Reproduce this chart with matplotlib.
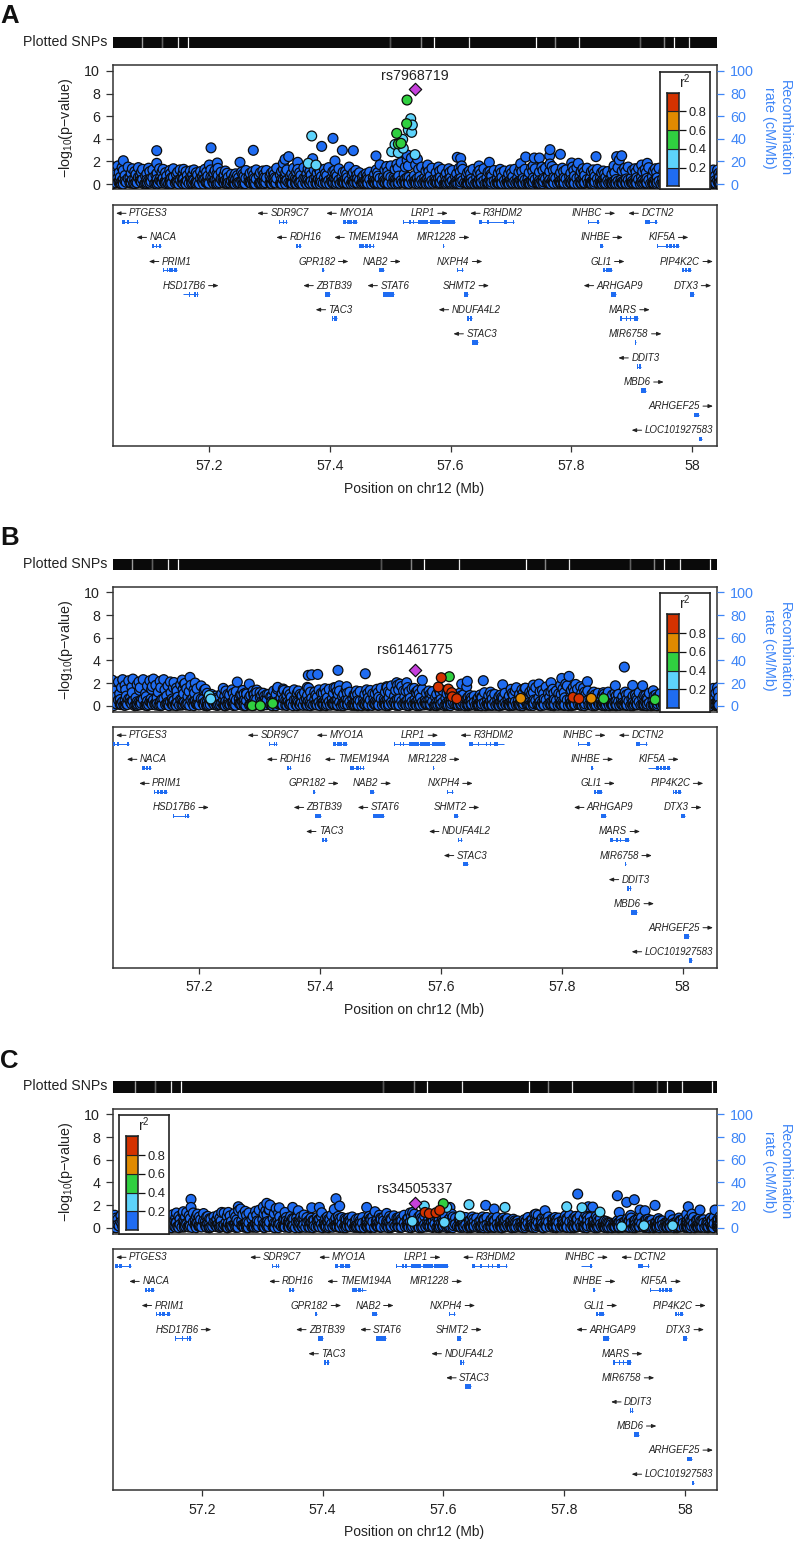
import numpy as np
import matplotlib
matplotlib.use('Agg')
from matplotlib import pyplot as plt

plt.rcParams['font.family'] = ['Liberation Sans', 'DejaVu Sans']
plt.rcParams['mathtext.default'] = 'regular'
plt.rcParams['axes.unicode_minus'] = True

# SNP cloud: positions (Mb) of the upper edge of the band
snp_pos = [57.040, 57.049, 57.056, 57.066, 57.073, 57.083, 57.090, 57.100, 57.107, 57.118,
           57.124, 57.135, 57.141, 57.152, 57.158, 57.169, 57.175, 57.186, 57.193, 57.203,
           57.210, 57.220, 57.227, 57.237, 57.244, 57.254, 57.261, 57.272, 57.278, 57.289,
           57.295, 57.306, 57.312, 57.323, 57.329, 57.340, 57.347, 57.357, 57.364, 57.374,
           57.381, 57.391, 57.398, 57.408, 57.415, 57.426, 57.432, 57.443, 57.449, 57.460,
           57.466, 57.477, 57.483, 57.494, 57.501, 57.511, 57.518, 57.528, 57.535, 57.545,
           57.552, 57.562, 57.569, 57.580, 57.586, 57.597, 57.603, 57.614, 57.620, 57.631,
           57.637, 57.648, 57.655, 57.665, 57.672, 57.682, 57.689, 57.699, 57.706, 57.716,
           57.723, 57.734, 57.740, 57.751, 57.757, 57.768, 57.774, 57.785, 57.791, 57.802,
           57.809, 57.819, 57.826, 57.836, 57.843, 57.853, 57.860, 57.870, 57.877, 57.888,
           57.894, 57.905, 57.911, 57.922, 57.928, 57.939, 57.945, 57.956, 57.963, 57.973,
           57.980, 57.990, 57.997, 58.007, 58.014, 58.024, 58.031, 58.042, 58.048, 58.058]

top_a = [1.5, 1.6, 1.45, 1.5, 1.35, 1.45, 1.3, 1.4, 1.25, 1.35,
         1.3, 1.2, 1.35, 1.25, 1.3, 1.15, 1.25, 1.1, 1.3, 1.25,
         1.2, 1.05, 1.15, .85, .9, 1.05, 1.2, 1.1, 1.25, 1.15,
         1.2, 1.1, 1.4, 1.3, 1.25, 1.4, 1.3, 1.45, 1.35, 1.25,
         1.4, 1.3, 1.45, 1.2, 1.35, 1.1, 1.5, 1.2, 1.0, .9,
         1.05, 1.25, 1.7, 1.55, 1.6, 1.75, 1.9, 2.1, 2.3, 2.2,
         1.5, 1.45, 1.4, 1.5, 1.3, 1.35, 1.2, 1.4, 1.3, 1.15,
         1.3, 1.2, 1.35, 1.1, 1.2, 1.3, 1.15, 1.25, 1.3, 1.4,
         1.3, 1.45, 1.35, 1.5, 1.4, 1.55, 1.3, 1.4, 1.25, 1.5,
         1.45, 1.35, 1.4, 1.25, 1.3, 1.15, 1.1, 1.3, 1.45, 1.4,
         1.5, 1.35, 1.4, 1.3, 1.45, 1.35, 1.4, 1.3, 1.35, 1.3,
         1.2, 1.3, 1.25, 1.2, 1.1, 1.0, .9, 1.24, 1.0, 1.0]
top_b = [2.2, 2.05, 2.25, 2.1, 2.3, 2.2, 2.35, 2.1, 2.3, 2.2,
         2.35, 2.15, 2.3, 2.1, 2.05, 1.85, 1.9, 1.8, 2.0, 1.75,
         1.45, 1.0, .85, 1.05, 1.3, 1.4, 1.25, 1.35, 1.15, 1.3,
         1.15, 1.1, 1.0, 1.3, 1.45, 1.35, 1.25, 1.4, 1.3, 1.15,
         1.55, 1.2, 1.4, 1.5, 1.45, 1.6, 1.3, 1.4, 1.2, 1.3,
         1.25, 1.4, 1.35, 1.45, 1.55, 1.6, 1.75, 1.8, 1.7, 1.6,
         1.5, 1.35, 1.45, 1.3, 1.25, 1.4, 1.35, 1.2, 1.0, 1.1,
         .95, .9, .85, .95, 1.15, 1.2, 1.0, .95, 1.1, 1.45,
         1.3, 1.4, 1.55, 1.5, 1.6, 1.35, 1.65, 1.45, 1.3, 1.5,
         1.75, 1.6, 1.45, 1.55, 1.3, 1.2, 1.1, 1.0, 1.2, 1.1,
         1.0, 1.2, 1.05, .95, 1.15, .9, 1.1, .95, 1.05, 1.2,
         1.1, 1.2, 1.3, 1.1, 1.25, 1.2, 1.3, 1.15, 1.4, 1.6]
top_c = [1.1, 1.0, 1.1, 1.05, 1.0, .95, 1.05, .9, 1.0, 1.05,
         1.1, 1.2, 1.05, 1.15, 1.3, 1.25, 1.35, 1.3, 1.2, 1.25,
         1.0, .95, 1.1, 1.3, 1.35, 1.25, 1.5, 1.45, 1.3, 1.45,
         1.55, 1.5, 1.6, 1.7, .95, .9, 1.0, .85, .95, .9,
         .85, .9, 1.0, .95, 1.1, 1.0, .9, .85, .95, .8,
         .9, 1.0, .95, 1.1, .9, 1.0, 1.05, .95, 1.1, 1.3,
         1.2, 1.1, 1.0, .95, .9, 1.1, 1.0, 1.2, .85, .95,
         .9, .95, .85, .95, .9, .85, .9, .85, .8, .75,
         .6, .7, .9, 1.15, 1.1, 1.0, .95, .9, .85, 1.05,
         1.1, 1.0, 1.05, 1.15, .9, 1.0, .8, .55, .4, .6,
         .65, .8, .85, .7, .9, .75, .65, .8, .6, .55,
         .7, .85, .75, .8, .9, .8, .7, .85, .9, 1.0]

# second row under the upper edge, one per panel (at low_pos)
upper_a = [1.15, 1.0, 1.2, .95, 1.1, 1.05, .9, 1.1, .95, 1.05,
           1.0, .9, 1.05, .95, 1.1, .85, 1.0, .9, 1.05, .95,
           .9, .8, .95, .7, .75, .85, .95, .8, 1.0, .85,
           .95, .85, 1.1, 1.0, .9, 1.05, 1.0, .9, 1.1, .95,
           1.05, .95, 1.1, .9, 1.05, .85, 1.0, .8, .75, .7,
           .85, 1.0, 1.25, 1.1, 1.3, 1.4, 1.5, 1.6, 1.7, 1.3,
           1.15, 1.1, 1.0, 1.15, .95, 1.05, .9, 1.1, 1.0, .9,
           1.0, .9, 1.05, .85, .95, 1.0, .9, .95, 1.05, 1.1,
           1.0, 1.15, 1.05, 1.2, 1.1, 1.2, 1.0, 1.1, .95, 1.2,
           1.1, 1.05, 1.1, .95, 1.0, .9, .85, 1.0, 1.15, 1.1,
           1.2, 1.05, 1.1, 1.0, 1.15, 1.05, 1.1, 1.0, 1.05, 1.0,
           .95, 1.0, .95, .9, .85, .8, .7, .95, .8, .8]
upper_b = [1.7, 1.5, 1.75, 1.6, 1.8, 1.65, 1.85, 1.6, 1.75, 1.7,
           1.8, 1.6, 1.75, 1.6, 1.55, 1.45, 1.5, 1.4, 1.5, 1.35,
           1.1, .8, .7, .85, 1.0, 1.1, .95, 1.05, .9, 1.0,
           .9, .85, .8, 1.0, 1.1, 1.05, 1.0, 1.1, 1.0, .9,
           1.2, .95, 1.1, 1.15, 1.1, 1.25, 1.0, 1.1, .95, 1.0,
           1.0, 1.1, 1.05, 1.15, 1.2, 1.25, 1.35, 1.4, 1.3, 1.25,
           1.2, 1.05, 1.1, 1.0, 1.0, 1.1, 1.05, .95, .8, .85,
           .75, .7, .7, .75, .9, .95, .8, .75, .85, 1.1,
           1.0, 1.1, 1.2, 1.15, 1.25, 1.05, 1.25, 1.1, 1.0, 1.15,
           1.35, 1.25, 1.1, 1.2, 1.0, .95, .85, .8, .95, .85,
           .8, .95, .85, .75, .9, .7, .85, .75, .8, .95,
           .85, .95, 1.0, .85, 1.0, .95, 1.0, .9, 1.1, 1.25]
upper_c = [.85, .8, .85, .8, .75, .75, .8, .7, .8, .8,
           .85, .95, .8, .9, 1.0, .95, 1.05, 1.0, .95, .95,
           .8, .75, .85, 1.0, 1.05, .95, 1.15, 1.1, 1.0, 1.1,
           1.2, 1.15, 1.25, 1.3, .75, .7, .8, .65, .75, .7,
           .65, .7, .8, .75, .85, .8, .7, .65, .75, .6,
           .7, .8, .75, .85, .7, .8, .8, .75, .85, 1.0,
           .95, .85, .8, .75, .7, .85, .8, .95, .65, .75,
           .7, .75, .65, .75, .7, .65, .7, .65, .6, .6,
           .45, .55, .7, .9, .85, .8, .75, .7, .65, .8,
           .85, .8, .8, .9, .7, .8, .6, .45, .3, .45,
           .5, .6, .65, .55, .7, .6, .5, .6, .45, .45,
           .55, .65, .6, .6, .7, .6, .55, .65, .7, .8]

# lower part of the band, about the same in all panels
mid_pos = [57.044, 57.053, 57.061, 57.069, 57.079, 57.086, 57.095, 57.104, 57.112, 57.120,
           57.130, 57.138, 57.146, 57.155, 57.164, 57.171, 57.181, 57.189, 57.198, 57.206,
           57.215, 57.223, 57.232, 57.240, 57.249, 57.258, 57.266, 57.275, 57.283, 57.292,
           57.301, 57.309, 57.318, 57.326, 57.335, 57.343, 57.352, 57.360, 57.369, 57.377,
           57.386, 57.395, 57.403, 57.412, 57.420, 57.429, 57.437, 57.446, 57.454, 57.463,
           57.472, 57.480, 57.489, 57.497, 57.506, 57.514, 57.523, 57.531, 57.540, 57.549,
           57.557, 57.566, 57.574, 57.583, 57.591, 57.600, 57.608, 57.617, 57.626, 57.634,
           57.643, 57.651, 57.660, 57.668, 57.677, 57.685, 57.694, 57.703, 57.711, 57.720,
           57.728, 57.737, 57.745, 57.754, 57.762, 57.771, 57.780, 57.788, 57.797, 57.805,
           57.814, 57.822, 57.831, 57.839, 57.848, 57.857, 57.865, 57.874, 57.882, 57.891,
           57.899, 57.908, 57.916, 57.925, 57.934, 57.942, 57.951, 57.959, 57.968, 57.976,
           57.985, 57.993, 58.002, 58.011, 58.019, 58.028, 58.036, 58.045, 58.053, 58.060]
mid_y = [.8, .6, .75, .55, .85, .65, .7, .5, .8, .6,
         .7, .55, .85, .6, .75, .5, .8, .65, .7, .55,
         .75, .5, .6, .45, .55, .7, .6, .5, .75, .6,
         .7, .55, .8, .6, .7, .5, .75, .55, .8, .6,
         .65, .75, .5, .7, .6, .55, .8, .5, .6, .45,
         .55, .7, .6, .75, .55, .7, .85, .6, .75, .65,
         .55, .7, .5, .6, .75, .55, .65, .5, .7, .45,
         .6, .5, .55, .7, .45, .6, .5, .65, .55, .5,
         .45, .55, .65, .5, .7, .6, .75, .55, .65, .7,
         .6, .75, .5, .65, .55, .6, .45, .4, .35, .45,
         .5, .55, .6, .5, .65, .55, .45, .6, .45, .4,
         .5, .6, .5, .55, .65, .55, .45, .6, .65, .7]
low_pos = [57.042, 57.051, 57.058, 57.071, 57.077, 57.088, 57.097, 57.102, 57.114, 57.122,
           57.128, 57.136, 57.148, 57.157, 57.162, 57.173, 57.179, 57.191, 57.196, 57.208,
           57.213, 57.225, 57.230, 57.242, 57.247, 57.256, 57.268, 57.274, 57.285, 57.291,
           57.303, 57.308, 57.320, 57.327, 57.337, 57.345, 57.350, 57.362, 57.367, 57.379,
           57.384, 57.393, 57.405, 57.410, 57.422, 57.428, 57.439, 57.445, 57.456, 57.462,
           57.474, 57.479, 57.491, 57.496, 57.508, 57.513, 57.525, 57.530, 57.542, 57.547,
           57.559, 57.564, 57.576, 57.582, 57.593, 57.599, 57.610, 57.616, 57.628, 57.633,
           57.645, 57.650, 57.662, 57.667, 57.679, 57.684, 57.696, 57.701, 57.713, 57.718,
           57.730, 57.736, 57.747, 57.753, 57.764, 57.770, 57.782, 57.787, 57.799, 57.804,
           57.816, 57.821, 57.833, 57.838, 57.850, 57.855, 57.867, 57.872, 57.884, 57.890,
           57.901, 57.907, 57.918, 57.924, 57.936, 57.941, 57.953, 57.958, 57.970, 57.975,
           57.987, 57.992, 58.004, 58.009, 58.021, 58.026, 58.038, 58.044, 58.055, 58.059]
low_y = [.35, .25, .4, .2, .45, .3, .35, .2, .4, .3,
         .25, .4, .3, .45, .2, .35, .25, .4, .3, .2,
         .35, .2, .3, .15, .25, .35, .2, .3, .15, .25,
         .35, .2, .4, .3, .2, .35, .25, .4, .2, .3,
         .35, .2, .3, .4, .25, .35, .2, .3, .2, .15,
         .3, .2, .35, .25, .4, .3, .45, .25, .35, .2,
         .3, .25, .35, .2, .3, .15, .25, .35, .2, .3,
         .2, .25, .15, .3, .2, .25, .15, .3, .2, .25,
         .15, .2, .3, .25, .35, .2, .3, .25, .35, .2,
         .3, .25, .2, .3, .25, .2, .15, .1, .2, .15,
         .25, .2, .3, .15, .25, .2, .15, .25, .2, .15,
         .25, .2, .3, .15, .25, .2, .3, .15, .25, .3]
base_pos = [57.046, 57.055, 57.063, 57.075, 57.081, 57.093, 57.098, 57.110, 57.116, 57.126,
            57.133, 57.144, 57.150, 57.160, 57.167, 57.177, 57.184, 57.195, 57.200, 57.212,
            57.218, 57.229, 57.235, 57.243, 57.251, 57.260, 57.270, 57.277, 57.287, 57.294,
            57.304, 57.311, 57.321, 57.332, 57.338, 57.349, 57.355, 57.366, 57.372, 57.383,
            57.389, 57.400, 57.406, 57.417, 57.424, 57.435, 57.441, 57.452, 57.458, 57.469,
            57.475, 57.486, 57.492, 57.503, 57.509, 57.520, 57.526, 57.537, 57.543, 57.554,
            57.560, 57.571, 57.578, 57.589, 57.595, 57.606, 57.612, 57.623, 57.629, 57.640,
            57.646, 57.657, 57.663, 57.674, 57.680, 57.691, 57.697, 57.708, 57.714, 57.725,
            57.732, 57.743, 57.749, 57.760, 57.766, 57.777, 57.783, 57.794, 57.800, 57.811,
            57.817, 57.828, 57.834, 57.845, 57.851, 57.862, 57.868, 57.879, 57.885, 57.896,
            57.903, 57.914, 57.920, 57.931, 57.937, 57.948, 57.954, 57.965, 57.971, 57.982,
            57.988, 57.999, 58.005, 58.016, 58.022, 58.033, 58.039, 58.047, 58.054, 58.057]
base_y = [.1, .02, .15, .05, .1, .0, .12, .04, .08, .15,
          .03, .1, .0, .12, .05, .09, .02, .14, .06, .0,
          .1, .04, .08, .0, .1, .03, .06, .0, .05, .1,
          .02, .08, .0, .12, .05, .1, .0, .08, .03, .12,
          .06, .0, .1, .04, .08, .0, .12, .03, .06, .0,
          .08, .02, .1, .05, .0, .12, .04, .1, .02, .08,
          .0, .06, .1, .02, .08, .0, .05, .1, .03, .0,
          .06, .02, .08, .0, .05, .03, .0, .07, .02, .05,
          .0, .06, .02, .08, .0, .05, .1, .03, .07, .0,
          .05, .09, .02, .06, .0, .08, .03, .0, .05, .02,
          .06, .0, .08, .03, .05, .0, .07, .02, .05, .0,
          .06, .03, .08, .0, .05, .02, .07, .0, .05, .03]

# dark floor of the band: more SNPs at the positions above
floor_1 = [.45, .55, .3, .5, .35, .6, .4, .3, .55, .35,
           .5, .3, .6, .35, .45, .55, .3, .5, .4, .6,
           .35, .45, .3, .25, .4, .3, .5, .35, .45, .3,
           .55, .35, .5, .4, .3, .6, .35, .5, .3, .45,
           .4, .55, .3, .5, .35, .45, .3, .55, .35, .3,
           .4, .3, .5, .35, .6, .45, .3, .55, .4, .5,
           .35, .45, .3, .5, .35, .4, .3, .45, .3, .35,
           .25, .4, .3, .35, .25, .4, .3, .35, .25, .3,
           .35, .25, .4, .3, .45, .3, .5, .35, .45, .3,
           .5, .35, .4, .3, .45, .25, .3, .2, .25, .3,
           .35, .25, .4, .3, .35, .3, .25, .35, .25, .3,
           .35, .25, .4, .3, .35, .25, .4, .3, .35, .4]
floor_2 = [.2, .05, .25, .1, .15, .3, .05, .2, .1, .25,
           .15, .05, .2, .1, .28, .05, .15, .22, .08, .18,
           .05, .2, .1, .05, .15, .08, .2, .1, .05, .18,
           .1, .25, .05, .2, .12, .05, .18, .1, .25, .05,
           .15, .05, .22, .1, .18, .05, .2, .08, .12, .05,
           .18, .08, .22, .05, .18, .1, .25, .05, .2, .1,
           .18, .05, .2, .1, .05, .15, .08, .18, .05, .12,
           .08, .12, .05, .15, .08, .05, .12, .08, .15, .05,
           .08, .15, .05, .18, .1, .05, .2, .08, .15, .05,
           .18, .1, .05, .15, .1, .05, .12, .05, .08, .05,
           .12, .05, .15, .08, .05, .12, .05, .15, .08, .05,
           .12, .08, .05, .15, .08, .05, .12, .08, .15, .05]
floor_3 = [.05, .12, .0, .1, .03, .15, .02, .08, .0, .1,
           .05, .0, .12, .04, .0, .1, .06, .0, .12, .03,
           .0, .08, .03, .0, .06, .02, .1, .0, .08, .03,
           .0, .1, .05, .0, .08, .02, .1, .0, .06, .03,
           .0, .1, .04, .0, .08, .02, .0, .1, .03, .0,
           .06, .0, .08, .02, .1, .0, .06, .02, .1, .0,
           .05, .0, .08, .02, .0, .06, .02, .0, .08, .03,
           .0, .05, .02, .0, .06, .02, .0, .05, .0, .02,
           .05, .0, .06, .02, .0, .08, .02, .0, .06, .02,
           .0, .05, .02, .0, .06, .0, .02, .0, .04, .0,
           .05, .02, .0, .06, .02, .0, .05, .0, .02, .04,
           .0, .05, .02, .0, .06, .02, .0, .05, .02, .0]

# panel B has a fuller upper band on the left and around 57.8
second_pos_b = [57.058, 57.068, 57.078, 57.089, 57.101, 57.111, 57.121, 57.132, 57.143, 57.153,
                57.163, 57.174, 57.183, 57.192, 57.250, 57.270, 57.290, 57.315, 57.345, 57.370,
                57.402, 57.430, 57.458, 57.487, 57.516, 57.538, 57.560, 57.585, 57.720, 57.750,
                57.778, 57.795, 57.815, 57.840, 57.990, 58.020, 58.050]
second_y_b = [1.3, 1.05, 1.4, 1.15, 1.35, 1.1, 1.45, 1.2, 1.4, 1.15,
              1.3, 1.05, 1.25, 1.1, .95, 1.0, .95, 1.0, .95, .9,
              1.1, 1.0, .95, 1.05, 1.15, 1.3, 1.1, 1.0, .95, 1.05,
              1.1, 1.05, 1.2, 1.0, .9, .95, 1.1]

# points above the band: position, height, r2 class (0 blue .. 4 red)
extra_pos_a = [57.1134, 57.2033, 57.2733, 57.4052, 57.3865, 57.4207, 57.4389, 57.4764, 57.3319, 57.3258,
               57.3230, 57.3468, 57.3716, 57.4085, 57.2513, 57.2137, 57.2148, 57.0581, 57.1134, 57.2005,
               57.5283, 57.6110, 57.6166, 57.6183, 57.5620, 57.6470, 57.6641, 57.7160, 57.7243, 57.7386,
               57.7469, 57.7369, 57.7645, 57.7640, 57.7817, 57.7645, 57.8004, 57.8114, 57.8407, 57.8749,
               57.8832, 57.8792, 57.8705, 57.9256, 57.9163, 58.0349,
               57.3700, 57.3643, 57.3771, 57.5079, 57.5024, 57.5133, 57.5339, 57.5366, 57.5299, 57.5355,
               57.5206, 57.5173, 57.5410, 57.5216,
               57.5107, 57.5134, 57.5278, 57.5272, 57.5178]
extra_y_a = [2.95, 3.2, 2.98, 4.04, 3.33, 2.98, 2.95, 2.48, 2.42, 2.18,
             1.83, 1.92, 2.24, 2.04, 1.92, 1.86, 1.39, 2.06, 1.83, 1.68,
             2.57, 2.36, 2.27, 1.6, 1.68, 1.6, 1.92, 1.8, 2.39, 2.3,
             2.3, 1.62, 3.04, 2.5, 2.63, 1.77, 1.86, 1.83, 2.42, 2.42,
             2.5, 2.12, 1.6, 1.83, 1.68, 1.24,
             4.25, 1.83, 1.68, 3.5, 2.86, 2.77, 5.78, 5.22, 4.78, 4.57,
             3.95, 3.54, 2.6, 3.16,
             4.48, 3.54, 7.43, 5.34, 3.6]
extra_ld_a = [0] * 46 + [1] * 14 + [2] * 5

extra_pos_b = [57.4295, 57.4747, 57.3959, 57.3860, 57.3803, 57.3787, 57.1845, 57.1717, 57.1762, 57.2628,
               57.2827, 57.2396, 57.2949, 57.3004, 57.2783, 57.3297, 57.3390, 57.4317, 57.4439, 57.4229,
               57.5267, 57.5101, 57.9036, 57.8887, 57.9174, 57.9339, 57.5691, 57.6436, 57.6343, 57.6426,
               57.6701, 57.7022, 57.7248, 57.7391, 57.7623, 57.7530, 57.7822, 57.8000, 57.8120, 57.8066,
               57.7983, 57.8231, 57.8313, 57.8424, 58.0509, 57.8688, 57.9515, 57.5559, 57.5433, 57.5322,
               57.2188, 57.2164,
               57.2876, 57.3009, 57.3214, 57.6138, 57.8694, 57.9544,
               57.7320, 57.8489,
               57.6005, 57.5957, 57.6122, 57.6179, 57.6189, 57.6262, 57.8186, 57.8285]
extra_y_b = [3.12, 2.82, 2.76, 2.73, 2.68, 1.62, 2.5, 2.26, 1.97, 2.09,
             1.91, 1.53, 1.38, 1.15, 1.03, 1.62, 1.47, 1.76, 1.68, 1.59,
             2.03, 1.68, 3.41, 1.76, 1.79, 1.76, 2.24, 2.15, 1.91, 1.68,
             2.21, 1.85, 1.59, 1.53, 1.91, 1.82, 2.03, 2.41, 2.59, 1.91,
             1.82, 1.88, 1.68, 2.12, 1.53, 1.15, 1.32, 1.53, 2.03, 1.91,
             .59, .9,
             0, 0, .2, 2.56, .62, .53,
             .65, .65,
             2.47, 1.65, 1.47, 1.15, .79, .62, .74, .62]
extra_ld_b = [0] * 50 + [1] * 2 + [2] * 6 + [3] * 2 + [4] * 8

extra_pos_c = [57.1821, 57.1821, 57.1694, 57.3075, 57.3130, 57.3113, 57.3019, 57.2605, 57.2644, 57.2330,
               57.3283, 57.3505, 57.3598, 57.3378, 57.3692, 57.4222, 57.4283, 57.4194, 57.3820, 57.3946,
               57.3986, 57.4730, 57.4868, 57.5062, 57.8224, 57.8880, 57.9035, 57.9161, 57.9504, 58.0055,
               57.6700, 57.6842, 57.8912, 57.9101, 57.9255, 57.9338, 58.0248, 57.9752, 57.8400, 57.8473,
               57.7682, 57.7533, 58.0497, 58.0028, 58.0116, 57.5492, 57.6109,
               57.5684, 57.6055, 57.6424, 57.6275, 57.7020, 57.6016, 57.5485, 57.8042, 57.8295, 57.8593,
               57.8952, 57.9321, 57.9796,
               57.5999,
               57.5696, 57.5767, 57.5877, 57.5939]
extra_y_c = [2.5, 1.79, 1.41, 2.15, 2.0, 1.56, 1.85, 1.85, 1.65, 1.35,
             1.76, 1.79, 1.5, 1.35, 1.12, 2.56, 1.91, 1.62, 1.76, 1.79,
             1.32, 1.79, 1.41, 1.26, 2.97, 2.82, 2.24, 2.47, 1.97, 1.85,
             1.97, 1.65, 1.35, 1.09, 1.56, 1.5, 1.56, 1.09, 1.85, 1.82,
             1.5, 1.2, 1.56, 1.18, 1.2, 1.35, 1.79,
             1.91, 1.79, 2.03, 1.03, 1.79, .47, .56, 1.85, 1.76, 1.38,
             .09, .18, .18,
             2.12,
             1.35, 1.24, 1.32, 1.53]
extra_ld_c = [0] * 47 + [1] * 13 + [2] * 1 + [4] * 4

lead_names = ['rs7968719', 'rs61461775', 'rs34505337']
lead_pos = [57.541, 57.557, 57.553]
lead_y = [8.38, 3.18, 2.15]
lead_label_y = [9.6, 4.9, 3.45]
panel_letters = ['A', 'B', 'C']

# white gaps in the Plotted SNPs rug (Mb) and their strength
rug_gaps = [57.089, 57.122, 57.1486, 57.165, 57.5, 57.551, 57.5725, 57.630,
            57.741, 57.773, 57.8125, 57.9135, 57.953, 57.970, 57.995, 58.045]
rug_alpha = [.6, .35, .9, 1, .3, .5, 1, .9, 1, .5, .9, .35, .5, 1, .9, 1]

# genes: name, row, strand, exon ranges (first start and last end give the span)
genes = [
    ('PTGES3', 0, -1, [(57.0565, 57.0609), (57.0637, 57.0675), (57.0802, 57.0830)]),
    ('NACA', 1, -1, [(57.1056, 57.1095), (57.1117, 57.1144), (57.1166, 57.1205)]),
    ('PRIM1', 2, -1, [(57.1244, 57.1260), (57.1299, 57.1326), (57.1343, 57.1398), (57.1420, 57.1470)]),
    ('HSD17B6', 3, 1, [(57.1564, 57.1575), (57.1674, 57.1685), (57.1757, 57.1779), (57.1795, 57.1823)]),
    ('SDR9C7', 0, -1, [(57.3159, 57.3175), (57.3230, 57.3247), (57.3269, 57.3286)]),
    ('RDH16', 1, -1, [(57.3446, 57.3479), (57.3495, 57.3523)]),
    ('MYO1A', 0, -1, [(57.4213, 57.4262), (57.4284, 57.4362), (57.4378, 57.4450)]),
    ('TMEM194A', 1, -1, [(57.4489, 57.4566), (57.4588, 57.4638), (57.4654, 57.4676), (57.4715, 57.4726)]),
    ('GPR182', 2, 1, [(57.3876, 57.3909)]),
    ('NAB2', 2, 1, [(57.4820, 57.4897)]),
    ('ZBTB39', 3, -1, [(57.3920, 57.4008)]),
    ('STAT6', 3, -1, [(57.4880, 57.5057)]),
    ('TAC3', 4, -1, [(57.4031, 57.4060), (57.4075, 57.4113)]),
    ('LRP1', 0, 1, [(57.5217, 57.5234), (57.5317, 57.5344), (57.5372, 57.5394), (57.5466, 57.5631),
                    (57.5659, 57.5824), (57.5852, 57.6073)]),
    ('R3HDM2', 0, -1, [(57.6470, 57.6525), (57.6608, 57.6635), (57.6746, 57.6757), (57.6812, 57.6823),
                       (57.6884, 57.6939), (57.7038, 57.7049)]),
    ('MIR1228', 1, 1, [(57.5874, 57.5885)]),
    ('NXPH4', 2, 1, [(57.6100, 57.6117), (57.6183, 57.6200)]),
    ('SHMT2', 3, 1, [(57.6222, 57.6288)]),
    ('NDUFA4L2', 4, -1, [(57.6277, 57.6304), (57.6326, 57.6349)]),
    ('STAC3', 5, -1, [(57.6360, 57.6453)]),
    ('INHBC', 0, 1, [(57.8275, 57.8286), (57.8424, 57.8462)]),
    ('DCTN2', 0, -1, [(57.9224, 57.9301), (57.9389, 57.9411)]),
    ('INHBE', 1, 1, [(57.8479, 57.8518)]),
    ('KIF5A', 1, 1, [(57.9422, 57.9433), (57.9566, 57.9604), (57.9621, 57.9660), (57.9676, 57.9721),
                     (57.9737, 57.9787)]),
    ('GLI1', 2, 1, [(57.8528, 57.8561), (57.8578, 57.8666)]),
    ('PIP4K2C', 2, 1, [(57.9836, 57.9864), (57.9880, 57.9908), (57.9925, 57.9974)]),
    ('ARHGAP9', 3, -1, [(57.8650, 57.8738)]),
    ('DTX3', 3, 1, [(57.9969, 58.0035)]),
    ('MARS', 4, 1, [(57.8804, 57.8843), (57.8904, 57.8926), (57.8970, 57.8986), (57.9042, 57.9108)]),
    ('MIR6758', 5, 1, [(57.9053, 57.9064)]),
    ('DDIT3', 6, -1, [(57.9086, 57.9108), (57.9124, 57.9147)]),
    ('MBD6', 7, 1, [(57.9152, 57.9241)]),
    ('ARHGEF25', 8, 1, [(58.0029, 58.0112)]),
    ('LOC101927583', 9, -1, [(58.0112, 58.0156)]),
]

ld_colors = ['#1F6CF2', '#5DD3FB', '#30D040', '#E08A00', '#D43200']
lead_color = '#C640DC'
blue_text = '#3F86F7'
dark = '#222222'
frame = '#333333'

W, H = 794, 1542
LEFT, RIGHT = 113, 717
PX_MB = 604.0

fig = plt.figure(figsize=(W / 100, H / 100), dpi=100)
renderer = fig.canvas.get_renderer()


def px_axes(l, t, r, b, **kw):
    return fig.add_axes([l / W, 1 - b / H, (r - l) / W, (b - t) / H], **kw)


def px_text(x, y, s, **kw):
    return fig.text(x / W, 1 - y / H, s, **kw)


def draw_legend(box, bar):
    bg = px_axes(*box)
    bg.set_xticks([])
    bg.set_yticks([])
    for sp in bg.spines.values():
        sp.set_linewidth(1.2)
        sp.set_color(dark)
    bg.text(0.5, 0.915, 'r$^2$', transform=bg.transAxes, ha='center', va='center', fontsize=10, color=dark)
    lg = px_axes(*bar)
    lg.bar([0] * 5, [.2] * 5, bottom=[0, .2, .4, .6, .8], width=1, color=ld_colors,
           edgecolor='#222222', linewidth=.8)
    lg.set_xlim(-.5, .5)
    lg.set_ylim(0, 1)
    lg.set_xticks([])
    lg.yaxis.tick_right()
    lg.set_yticks([.2, .4, .6, .8])
    lg.set_yticklabels(['0.2', '0.4', '0.6', '0.8'], fontsize=9.3, color=dark)
    lg.tick_params(axis='y', length=5, width=.9, color='#111111', pad=2)
    for sp in lg.spines.values():
        sp.set_linewidth(1.1)
        sp.set_color(dark)


panels = [
    dict(rug=(37, 48), assoc=(65, 189), gene=(205, 446), y0=184, ppu=11.3, letter_y=23,
         label_y=489, ylab_y=128, top=top_a, upper=upper_a,
         ex=(extra_pos_a, extra_y_a, extra_ld_a), legend=((660, 71.5, 710.3, 189), (666.7, 92.7, 679, 186.3))),
    dict(rug=(558.5, 570), assoc=(587, 712), gene=(727, 967.5), y0=705.7, ppu=11.33, letter_y=545,
         label_y=1010, ylab_y=650, top=top_b, upper=upper_b,
         ex=(extra_pos_b, extra_y_b, extra_ld_b), legend=((660, 593, 710.3, 712), (666.7, 614.5, 679, 708))),
    dict(rug=(1080.5, 1092.5), assoc=(1109, 1233.5), gene=(1249, 1490), y0=1227.7, ppu=11.33, letter_y=1068,
         label_y=1532, ylab_y=1172, top=top_c, upper=upper_c,
         ex=(extra_pos_c, extra_y_c, extra_ld_c), legend=((118.7, 1115, 169.3, 1233.5), (126, 1136.3, 138, 1230))),
]

for i, p in enumerate(panels):
    x0 = lead_pos[i] - 0.5
    x1 = x0 + (RIGHT - LEFT) / PX_MB

    px_text(0, p['letter_y'], panel_letters[i], fontsize=18.5, fontweight='bold', color='#111111',
            ha='left', va='baseline')

    # rug
    rug = px_axes(LEFT, p['rug'][0], RIGHT, p['rug'][1])
    rug.axis('off')
    rug.set_xlim(x0, x1)
    rug.set_ylim(0, 1)
    rug.axvspan(x0, x1, color='#0A0A0A', lw=0)
    rug.vlines(rug_gaps, 0, 1, colors='white', linewidth=.9)
    for g, a in zip(rug_gaps, rug_alpha):
        rug.vlines(g, 0, 1, colors='#0A0A0A', linewidth=.9, alpha=1 - a)
    px_text(107, sum(p['rug']) / 2, 'Plotted SNPs', fontsize=10.2, color=dark, ha='right', va='center')

    # association panel
    ax = px_axes(LEFT, p['assoc'][0], RIGHT, p['assoc'][1])
    ax.set_xlim(x0, x1)
    ax.set_ylim((p['y0'] - p['assoc'][1]) / p['ppu'], (p['y0'] - p['assoc'][0]) / p['ppu'])
    ex_pos, ex_y, ex_ld = p['ex']
    xs = snp_pos + low_pos + mid_pos + low_pos + base_pos + snp_pos + mid_pos + low_pos
    ys = p['top'] + p['upper'] + mid_y + low_y + base_y + floor_1 + floor_2 + floor_3
    if i == 1:
        xs = xs + second_pos_b
        ys = ys + second_y_b
    xs = np.array(xs + ex_pos)
    ys = np.array(ys + ex_y)
    lds = np.array([0] * (len(xs) - len(ex_pos)) + ex_ld)
    order = np.lexsort((xs, lds))
    ax.scatter(xs[order], ys[order], s=50, c=[ld_colors[k] for k in lds[order]],
               edgecolors='#0C0C0C', linewidths=.9, zorder=3)
    ax.scatter([lead_pos[i]], [lead_y[i]], s=40, marker='D', c=lead_color, edgecolors='#0C0C0C',
               linewidths=.85, zorder=4)
    ax.text(lead_pos[i], lead_label_y[i], lead_names[i], ha='center', va='center',
            fontsize=10.3, color=dark, zorder=5)
    ax.set_xticks([])
    ax.set_yticks(range(0, 11, 2))
    ax.tick_params(axis='y', length=4.8, width=.9, color=frame, labelsize=10.3, labelcolor=dark, pad=4.5)
    for sp in ax.spines.values():
        sp.set_linewidth(1.1)
        sp.set_color(frame)
    px_text(66, p['ylab_y'], '\u2212log$_{10}$(p\u2212value)', rotation=90, fontsize=10.3, color=dark,
            ha='center', va='center')

    rate = ax.twinx()
    rate.set_ylim(ax.get_ylim()[0] * 10, ax.get_ylim()[1] * 10)
    rate.set_yticks(range(0, 101, 20))
    rate.tick_params(axis='y', length=4.8, width=.9, color=blue_text, labelsize=10.4, labelcolor=blue_text, pad=4.8)
    for sp in rate.spines.values():
        sp.set_visible(False)
    px_text(777, p['ylab_y'], 'Recombination\nrate (cM/Mb)', rotation=270, fontsize=10.4, color=blue_text,
            ha='center', va='center', linespacing=1.15, multialignment='center')

    draw_legend(p['legend'][0], p['legend'][1])

    # gene panel
    gx = px_axes(LEFT, p['gene'][0], RIGHT, p['gene'][1])
    gx.set_xlim(x0, x1)
    gx.set_ylim(9.295, -0.705)
    gx.set_yticks([])
    gx.set_xticks([57.2, 57.4, 57.6, 57.8, 58.0])
    gx.set_xticklabels(['57.2', '57.4', '57.6', '57.8', '58'], fontsize=10.2, color=dark)
    gx.tick_params(axis='x', length=4.5, width=.9, color=frame, pad=4.5)
    for sp in gx.spines.values():
        sp.set_linewidth(1.1)
        sp.set_color(frame)
    px_text(414, p['label_y'], 'Position on chr12 (Mb)', fontsize=10, color=dark, ha='center', va='center')

    for name, row, strand, exons in genes:
        start, end = exons[0][0], exons[-1][1]
        gx.plot([start, end], [row, row], color=ld_colors[0], lw=.7, solid_capstyle='butt', zorder=2)
        gx.broken_barh([(a, b - a) for a, b in exons], (row - .095, .19), facecolors=ld_colors[0], zorder=3)

        t = gx.text(x0, row - .36, name, style='italic', fontsize=7, color=dark, ha='left', va='center')
        w = t.get_window_extent(renderer).width
        group = w + 13
        mid_px = LEFT + ((start + end) / 2 - x0) * PX_MB
        left_px = min(max(mid_px - group / 2, LEFT + 3), RIGHT - 4 - group)
        if strand < 0:
            text_px, tail_px, head_px = left_px + 13, left_px + 10, left_px
        else:
            text_px, tail_px, head_px = left_px, left_px + w + 3, left_px + w + 13
        to_mb = lambda v: x0 + (v - LEFT) / PX_MB
        t.set_x(to_mb(text_px))
        gx.annotate('', xy=(to_mb(head_px), row - .36), xytext=(to_mb(tail_px), row - .36),
                    arrowprops=dict(arrowstyle='-|>,head_length=.45,head_width=.18', lw=.7, color=dark,
                                    shrinkA=0, shrinkB=0, mutation_scale=6))

fig.savefig('out.png', dpi=100)
